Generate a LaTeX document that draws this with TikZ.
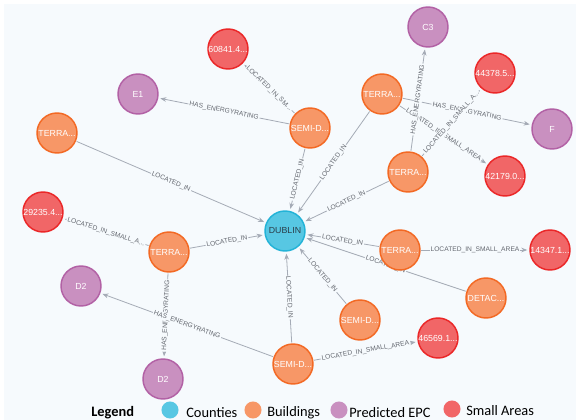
\documentclass[tikz,border=0pt]{standalone}
\usepackage{fontspec}
\usepackage{xcolor}
\usetikzlibrary{arrows.meta}
\setmainfont{Liberation Sans}
\newfontfamily\legendfont{Carlito}
\definecolor{neoBack}{RGB}{246, 250, 253}
\definecolor{neoEdge}{RGB}{165, 171, 182}
\definecolor{neoEdgeText}{RGB}{100, 104, 112}
\definecolor{neoBlue}{RGB}{87, 199, 227}
\definecolor{neoBlueLine}{RGB}{35, 179, 215}
\definecolor{neoOrange}{RGB}{247, 151, 103}
\definecolor{neoOrangeLine}{RGB}{243, 105, 36}
\definecolor{neoPurple}{RGB}{201, 144, 192}
\definecolor{neoPurpleLine}{RGB}{178, 97, 165}
\definecolor{neoRed}{RGB}{241, 102, 103}
\definecolor{neoRedLine}{RGB}{235, 39, 40}
\definecolor{neoDark}{RGB}{42, 60, 72}
\pgfdeclarelayer{bg}
\pgfdeclarelayer{edgelayer}
\pgfsetlayers{bg,edgelayer,main}

\begin{document}
\begin{tikzpicture}[x=0.75pt, y=-0.75pt,
    graphNode/.style={circle, draw, line width=1.1pt, minimum size=30pt, inner sep=0pt, text=white, font=\fontsize{6.6}{7}\selectfont},
    countyNode/.style={graphNode, fill=neoBlue, draw=neoBlueLine, text=neoDark},
    buildingNode/.style={graphNode, fill=neoOrange, draw=neoOrangeLine},
    epcNode/.style={graphNode, fill=neoPurple, draw=neoPurpleLine},
    areaNode/.style={graphNode, fill=neoRed, draw=neoRedLine},
    rel/.style={draw=neoEdge, line width=0.6pt, -{Stealth[length=4.5pt, width=3.5pt]}, shorten >=1.5pt, shorten <=0.5pt},
    relText/.style={midway, sloped, fill=neoBack, inner sep=0.8pt, text=neoEdgeText, font=\fontsize{5}{5}\selectfont},
    legendDot/.style={circle, minimum size=12.8pt, inner sep=0pt},
    legendText/.style={anchor=west, inner sep=0pt, font=\legendfont\fontsize{10.8}{11}\selectfont, text=black}]
\useasboundingbox (0,0) rectangle (576,420);
\begin{pgfonlayer}{bg}
\fill[white] (0,0) rectangle (576,420);
\fill[neoBack] (4,4) rectangle (576,420);
\end{pgfonlayer}

% county
\node[countyNode] (dublin) at (285,231) {DUBLIN};

% buildings
\node[buildingNode] (semiTop) at (310,128) {SEMI-D...};
\node[buildingNode] (terraLeft) at (57,133) {TERRA...};
\node[buildingNode] (terraTop) at (382,94) {TERRA...};
\node[buildingNode] (terraMid) at (408,172) {TERRA...};
\node[buildingNode] (terraCentre) at (169,252) {TERRA...};
\node[buildingNode] (terraRight) at (400,250) {TERRA...};
\node[buildingNode] (detac) at (486,298) {DETAC...};
\node[buildingNode] (semiMid) at (360,320) {SEMI-D...};
\node[buildingNode] (semiLow) at (293,364) {SEMI-D...};

% predicted EPC
\node[epcNode] (epcE) at (138,94) {E1};
\node[epcNode] (epcC) at (428,27) {C3};
\node[epcNode] (epcF) at (552,129) {F};
\node[epcNode] (epcDa) at (81,286) {D2};
\node[epcNode] (epcDb) at (163,379) {D2};

% small areas
\node[areaNode] (area608) at (228,49) {60841.4...};
\node[areaNode] (area443) at (495,73) {44378.5...};
\node[areaNode] (area421) at (505,176) {42179.0...};
\node[areaNode] (area292) at (43,212) {29235.4...};
\node[areaNode] (area143) at (550,250) {14347.1...};
\node[areaNode] (area465) at (438,338) {46569.1...};

% relationships
\begin{pgfonlayer}{edgelayer}
\path[rel] (semiTop) -- (area608) node[relText] {LOCATED\_IN\_SM...};
\path[rel] (semiTop) -- (epcE) node[relText] {HAS\_ENERGYRATING};
\path[rel] (semiTop) -- (dublin) node[relText] {LOCATED\_IN};
\path[rel] (terraLeft) -- (dublin) node[relText] {LOCATED\_IN};
\path[rel] (terraTop) -- (dublin) node[relText] {LOCATED\_IN};
\path[rel] (terraTop) -- (epcF) node[relText] {HAS\_ENERGYRATING};
\path[rel] (terraTop) -- (area421) node[relText] {LOCATED\_IN\_SMALL\_AREA};
\path[rel] (terraMid) -- (dublin) node[relText] {LOCATED\_IN};
\path[rel] (terraMid) -- (epcC) node[relText] {HAS\_ENERGYRATING};
\path[rel] (terraMid) -- (area443) node[relText] {LOCATED\_IN\_SMALL\_A...};
\path[rel] (terraCentre) -- (dublin) node[relText] {LOCATED\_IN};
\path[rel] (terraCentre) -- (area292) node[relText] {LOCATED\_IN\_SMALL\_A...};
\path[rel] (terraCentre) -- (epcDb) node[relText] {HAS\_ENERGYRATING};
\path[rel] (semiLow) -- (epcDa) node[relText] {HAS\_ENERGYRATING};
\path[rel] (semiLow) -- (dublin) node[relText] {LOCATED\_IN};
\path[rel] (semiLow) -- (area465) node[relText] {LOCATED\_IN\_SMALL\_AREA};
\path[rel] (semiMid) -- (dublin) node[relText] {LOCATED\_IN};
\path[rel] (terraRight) -- (dublin) node[relText] {LOCATED\_IN};
\path[rel] (terraRight) -- (area143) node[relText] {LOCATED\_IN\_SMALL\_AREA};
\path[rel] (detac) -- (dublin) node[relText] {LOCATED\_IN};
\end{pgfonlayer}

% legend
\node[anchor=west, inner sep=0pt, font=\legendfont\bfseries\fontsize{10.8}{11}\selectfont] (legendTitle) at (91,413) {Legend};
\node[legendDot, fill=neoBlue] (keyCounty) at (170,410) {};
\node[legendText] (keyCountyText) at (186,413) {Counties};
\node[legendDot, fill=neoOrange] (keyBuilding) at (253,410) {};
\node[legendText] (keyBuildingText) at (267,413) {Buildings};
\node[legendDot, fill=neoPurple] (keyEpc) at (339,410) {};
\node[legendText] (keyEpcText) at (349,413) {Predicted EPC};
\node[legendDot, fill=neoRed] (keyArea) at (452,409) {};
\node[legendText] (keyAreaText) at (466,411) {Small Areas};
\end{tikzpicture}
\end{document}
